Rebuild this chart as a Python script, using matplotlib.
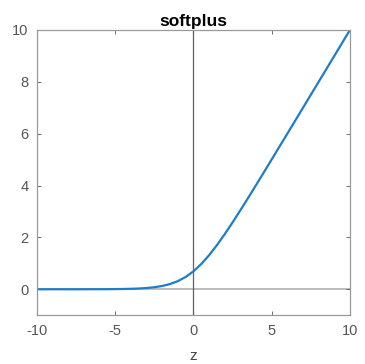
import matplotlib
matplotlib.use("Agg")
import matplotlib.pyplot as plt

plt.rcParams['font.family'] = ['Liberation Sans', 'DejaVu Sans']
plt.rcParams['axes.unicode_minus'] = False

# softplus values read at selected z
z = [-10, -9, -8, -7, -6, -5, -4.5, -4, -3.5, -3, -2.5, -2, -1.5, -1, -0.5,
     0, 0.5, 1, 1.5, 2, 2.5, 3, 3.5, 4, 4.5, 5, 6, 7, 8, 9, 10]
sp = [0.0, 0.0001, 0.0003, 0.0009, 0.0025, 0.0067, 0.011, 0.018, 0.030, 0.049,
      0.079, 0.127, 0.201, 0.313, 0.474, 0.693, 0.974, 1.313, 1.701, 2.127,
      2.579, 3.049, 3.530, 4.018, 4.511, 5.007, 6.002, 7.001, 8.0, 9.0, 10.0]

xticks = [-10, -5, 0, 5, 10]
yticks = [0, 2, 4, 6, 8, 10]

fig = plt.figure(figsize=(3.65, 3.64), dpi=100)
ax = fig.add_axes([0.101, 0.134, 0.858, 0.784])

ax.axhline(0, color='#b0b0b0', lw=1.2, zorder=1)
ax.axvline(0, color='#606060', lw=0.9, zorder=1)
ax.plot(z, sp, color='#1f7cc8', lw=1.6, zorder=2)

ax.set_xlim(-10, 10)
ax.set_ylim(-1, 10)
ax.set_xticks(xticks)
ax.set_yticks(yticks)
ax.tick_params(direction='in', length=3, width=0.6, colors='#555555',
               labelsize=10.5, top=True, right=True, pad=6)
for s in ax.spines.values():
    s.set_color('#999999')
    s.set_linewidth(0.9)

ax.set_title('softplus', fontsize=12.5, fontweight='bold', pad=3)
ax.set_xlabel('z', fontsize=11, color='#444444', labelpad=8)

fig.savefig('out.png', dpi=100)
